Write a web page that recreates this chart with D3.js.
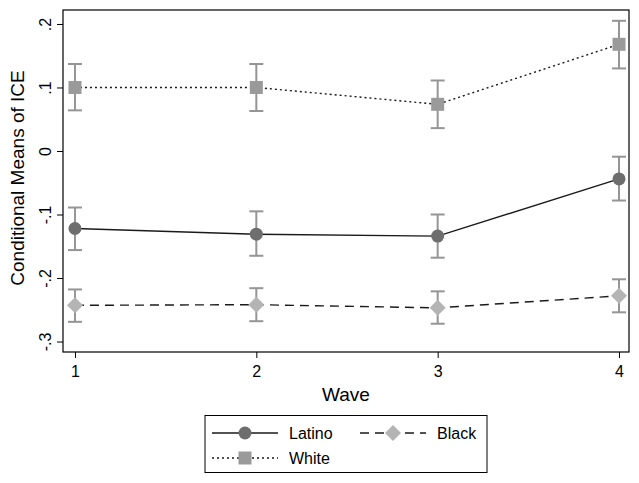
<!DOCTYPE html>
<html><head><meta charset="utf-8">
<script src="https://cdn.jsdelivr.net/npm/d3@7"></script>
<style>body{margin:0;background:#fff}svg{display:block}text{font-family:"Liberation Sans",Arial,sans-serif;fill:#000}</style>
</head><body>
<svg id="c" width="639" height="483"></svg>
<script>
const waves = [1, 2, 3, 4];
const yTicks = [0.2, 0.1, 0, -0.1, -0.2, -0.3];
const yTickLabels = [".2", ".1", "0", "-.1", "-.2", "-.3"];
const latinoMean = [-0.122, -0.131, -0.134, -0.044];
const latinoLo = [-0.156, -0.165, -0.168, -0.078];
const latinoHi = [-0.089, -0.095, -0.100, -0.009];
const blackMean = [-0.243, -0.242, -0.247, -0.228];
const blackLo = [-0.269, -0.268, -0.272, -0.254];
const blackHi = [-0.218, -0.216, -0.221, -0.202];
const whiteMean = [0.100, 0.100, 0.0735, 0.168];
const whiteLo = [0.064, 0.063, 0.036, 0.130];
const whiteHi = [0.137, 0.137, 0.111, 0.205];

const svg = d3.select("#c");
const L = 63, R = 629, T = 10, B = 352;
const x = d3.scaleLinear().domain([0.934, 4.055]).range([L, R]);
const y = d3.scaleLinear().domain([-0.3165, 0.222]).range([B, T]);

svg.append("rect").attr("x", L).attr("y", T).attr("width", R - L).attr("height", B - T)
  .attr("fill", "#fff").attr("stroke", "#000").attr("stroke-width", 1.2);

const yAxis = d3.axisLeft(y).tickValues(yTicks).tickSize(6).tickFormat((d, i) => yTickLabels[i]);
const gy = svg.append("g").attr("transform", `translate(${L},0)`).call(yAxis);
gy.select(".domain").remove();
gy.selectAll("line").attr("stroke", "#000");
gy.selectAll("text").attr("font-size", 16).attr("font-family", "Liberation Sans, Arial, sans-serif")
  .attr("text-anchor", "middle").attr("x", 0)
  .attr("transform", "translate(-18,0) rotate(-90)").attr("dy", "0.35em");

const xAxis = d3.axisBottom(x).tickValues(waves).tickSize(6).tickFormat(d3.format("d"));
const gx = svg.append("g").attr("transform", `translate(0,${B})`).call(xAxis);
gx.select(".domain").remove();
gx.selectAll("line").attr("stroke", "#000");
gx.selectAll("text").attr("font-size", 16).attr("font-family", "Liberation Sans, Arial, sans-serif").attr("dy", "1.0em");

svg.append("text").attr("x", (L + R) / 2).attr("y", 401).attr("text-anchor", "middle")
  .attr("font-size", 19).text("Wave");
svg.append("text").attr("transform", `translate(24,${(T + B) / 2 - 3}) rotate(-90)`).attr("text-anchor", "middle")
  .attr("font-size", 19).text("Conditional Means of ICE");

const errColor = "#959595";
function series(mean, lo, hi, dash, marker, color) {
  const line = d3.line().x((d, i) => x(waves[i])).y(d => y(d));
  svg.append("path").attr("d", line(mean)).attr("fill", "none").attr("stroke", "#1a1a1a")
    .attr("stroke-width", 1.4).attr("stroke-dasharray", dash);
  waves.forEach((w, i) => {
    const g = svg.append("g").attr("stroke", errColor).attr("stroke-width", 2);
    g.append("line").attr("x1", x(w)).attr("x2", x(w)).attr("y1", y(lo[i])).attr("y2", y(hi[i]));
    g.append("line").attr("x1", x(w) - 7).attr("x2", x(w) + 7).attr("y1", y(lo[i])).attr("y2", y(lo[i]));
    g.append("line").attr("x1", x(w) - 7).attr("x2", x(w) + 7).attr("y1", y(hi[i])).attr("y2", y(hi[i]));
  });
  waves.forEach((w, i) => drawMarker(x(w), y(mean[i]), marker, color));
}
function drawMarker(cx, cy, marker, color) {
  if (marker === "circle") svg.append("circle").attr("cx", cx).attr("cy", cy).attr("r", 6.5).attr("fill", color);
  else if (marker === "square") svg.append("rect").attr("x", cx - 6.5).attr("y", cy - 6.5).attr("width", 13).attr("height", 13).attr("fill", color);
  else svg.append("path").attr("d", `M${cx},${cy - 8}L${cx + 8},${cy}L${cx},${cy + 8}L${cx - 8},${cy}Z`).attr("fill", color);
}
const cLat = "#6e6e6e", cWhite = "#9a9a9a", cBlack = "#b4b4b4";
series(whiteMean, whiteLo, whiteHi, "2,3", "square", cWhite);
series(latinoMean, latinoLo, latinoHi, null, "circle", cLat);
series(blackMean, blackLo, blackHi, "9,6", "diamond", cBlack);

// legend
svg.append("rect").attr("x", 205).attr("y", 415.5).attr("width", 282).attr("height", 57)
  .attr("fill", "#fff").attr("stroke", "#000").attr("stroke-width", 1);
const legend = [
  {name: "Latino", lx: 212, ly: 433, dash: null, marker: "circle", color: cLat},
  {name: "Black", lx: 360, ly: 433, dash: "9,6", marker: "diamond", color: cBlack},
  {name: "White", lx: 212, ly: 458, dash: "2,3", marker: "square", color: cWhite}
];
legend.forEach(e => {
  svg.append("line").attr("x1", e.lx).attr("x2", e.lx + 66).attr("y1", e.ly).attr("y2", e.ly)
    .attr("stroke", "#1a1a1a").attr("stroke-width", 1.4).attr("stroke-dasharray", e.dash);
  drawMarker(e.lx + 33, e.ly, e.marker, e.color);
  svg.append("text").attr("x", e.lx + 77).attr("y", e.ly).attr("dy", "0.36em").attr("font-size", 16).text(e.name);
});
</script>
</body></html>
